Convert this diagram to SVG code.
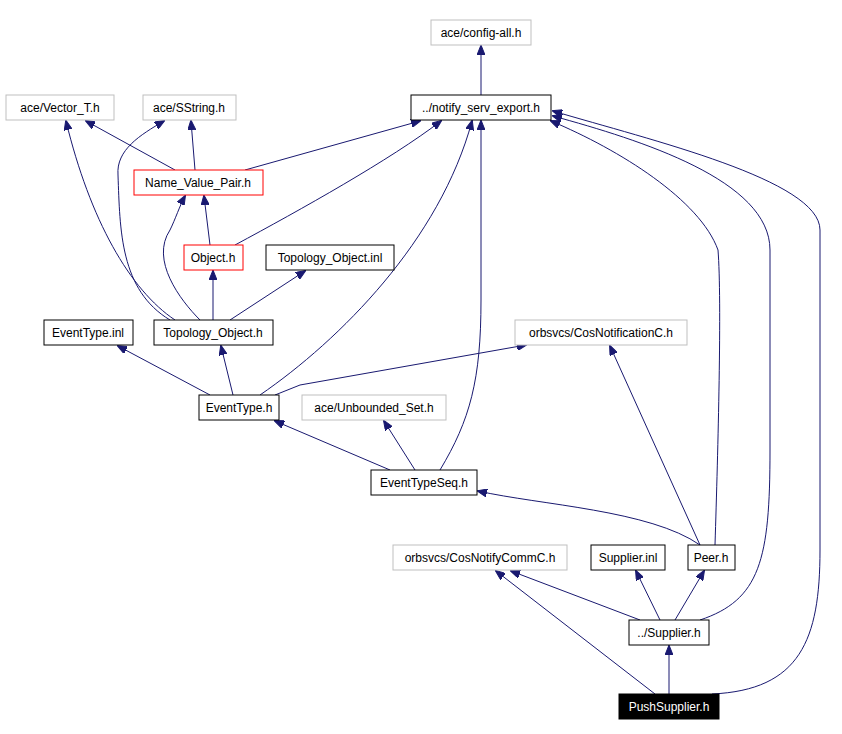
<svg xmlns="http://www.w3.org/2000/svg" width="842" height="734" viewBox="0 0 842 734">
<defs>
<marker id="a" markerWidth="10" markerHeight="8" refX="9" refY="4" orient="auto" markerUnits="userSpaceOnUse"><path d="M0,0 L10,4 L0,8 z" fill="#191970" stroke="#191970"/></marker>
<style>
text{font-family:"Liberation Sans",Arial,sans-serif;font-size:12px;text-anchor:middle;fill:#000}
.n{fill:#fff;stroke:#000}
.g{fill:#fff;stroke:#bfbfbf}
.r{fill:#fff;stroke:#ff0000}
#edges path{fill:none;stroke:#191970;stroke-width:1;marker-end:url(#a)}
</style>
</defs>
<rect width="842" height="734" fill="#fff"/>
<g id="edges">
<path d="M481,95 L481,46"/>
<path d="M175,170 L86,121"/>
<path d="M195,170 L191,121"/>
<path d="M245,170 L420,121"/>
<path d="M210,245 L204,196"/>
<path d="M235,245 C300,210 390,160 441,121"/>
<path d="M175,320 C130,290 90,220 66,121"/>
<path d="M170,320 C120,290 120,230 118,175 C116,150 140,135 164,121"/>
<path d="M200,320 C180,300 150,260 170,230 C175,220 180,205 185,196"/>
<path d="M213,320 L213,271"/>
<path d="M230,320 L305,271"/>
<path d="M210,395 L118,346"/>
<path d="M233,395 L221,346"/>
<path d="M275,395 L300,385 L526,345"/>
<path d="M260,395 C340,340 440,240 472,121"/>
<path d="M390,470 L275,421"/>
<path d="M415,470 L384,421"/>
<path d="M440,470 C470,420 481,380 481,300 L481,121"/>
<path d="M700,545 C650,510 540,505 478,491"/>
<path d="M700,545 L610,346"/>
<path d="M715,545 C718,450 722,300 718,250 C700,200 620,150 551,121"/>
<path d="M640,620 L511,571"/>
<path d="M660,620 L636,571"/>
<path d="M675,620 L704,571"/>
<path d="M700,620 C760,600 770,560 770,450 L770,250 C770,180 640,140 553,116"/>
<path d="M655,694 L496,571"/>
<path d="M669,694 L669,646"/>
<path d="M712,694 C800,690 820,640 820,550 L820,230 C820,180 650,140 553,111"/>
</g>
<g id="n1"><rect class="g" x="431" y="20" width="100" height="25"/><text x="481" y="37">ace/config-all.h</text></g>
<g id="n2"><rect class="n" x="411" y="95" width="140" height="25"/><text x="481" y="112">../notify_serv_export.h</text></g>
<g id="n3"><rect class="g" x="6" y="95" width="108" height="25"/><text x="60" y="112">ace/Vector_T.h</text></g>
<g id="n4"><rect class="g" x="143" y="95" width="93" height="25"/><text x="189" y="112">ace/SString.h</text></g>
<g id="n5"><rect class="r" x="134" y="170" width="129" height="25"/><text x="198" y="187">Name_Value_Pair.h</text></g>
<g id="n6"><rect class="r" x="184" y="245" width="59" height="25"/><text x="213" y="262">Object.h</text></g>
<g id="n7"><rect class="n" x="266" y="245" width="128" height="25"/><text x="330" y="262">Topology_Object.inl</text></g>
<g id="n8"><rect class="n" x="44" y="320" width="89" height="25"/><text x="88" y="337">EventType.inl</text></g>
<g id="n9"><rect class="n" x="154" y="320" width="119" height="25"/><text x="213" y="337">Topology_Object.h</text></g>
<g id="n10"><rect class="g" x="515" y="320" width="172" height="25"/><text x="601" y="337">orbsvcs/CosNotificationC.h</text></g>
<g id="n11"><rect class="n" x="199" y="395" width="80" height="25"/><text x="239" y="412">EventType.h</text></g>
<g id="n12"><rect class="g" x="302" y="395" width="144" height="25"/><text x="374" y="412">ace/Unbounded_Set.h</text></g>
<g id="n13"><rect class="n" x="371" y="470" width="106" height="25"/><text x="424" y="487">EventTypeSeq.h</text></g>
<g id="n14"><rect class="g" x="393" y="545" width="174" height="25"/><text x="480" y="562">orbsvcs/CosNotifyCommC.h</text></g>
<g id="n15"><rect class="n" x="591" y="545" width="74" height="25"/><text x="628" y="562">Supplier.inl</text></g>
<g id="n16"><rect class="n" x="688" y="545" width="47" height="25"/><text x="711" y="562">Peer.h</text></g>
<g id="n17"><rect class="n" x="629" y="620" width="80" height="25"/><text x="669" y="637">../Supplier.h</text></g>
<g id="n18"><rect x="619" y="694" width="100" height="25" fill="#000" stroke="#000"/><text x="669" y="711" style="fill:#fff">PushSupplier.h</text></g>
</svg>
